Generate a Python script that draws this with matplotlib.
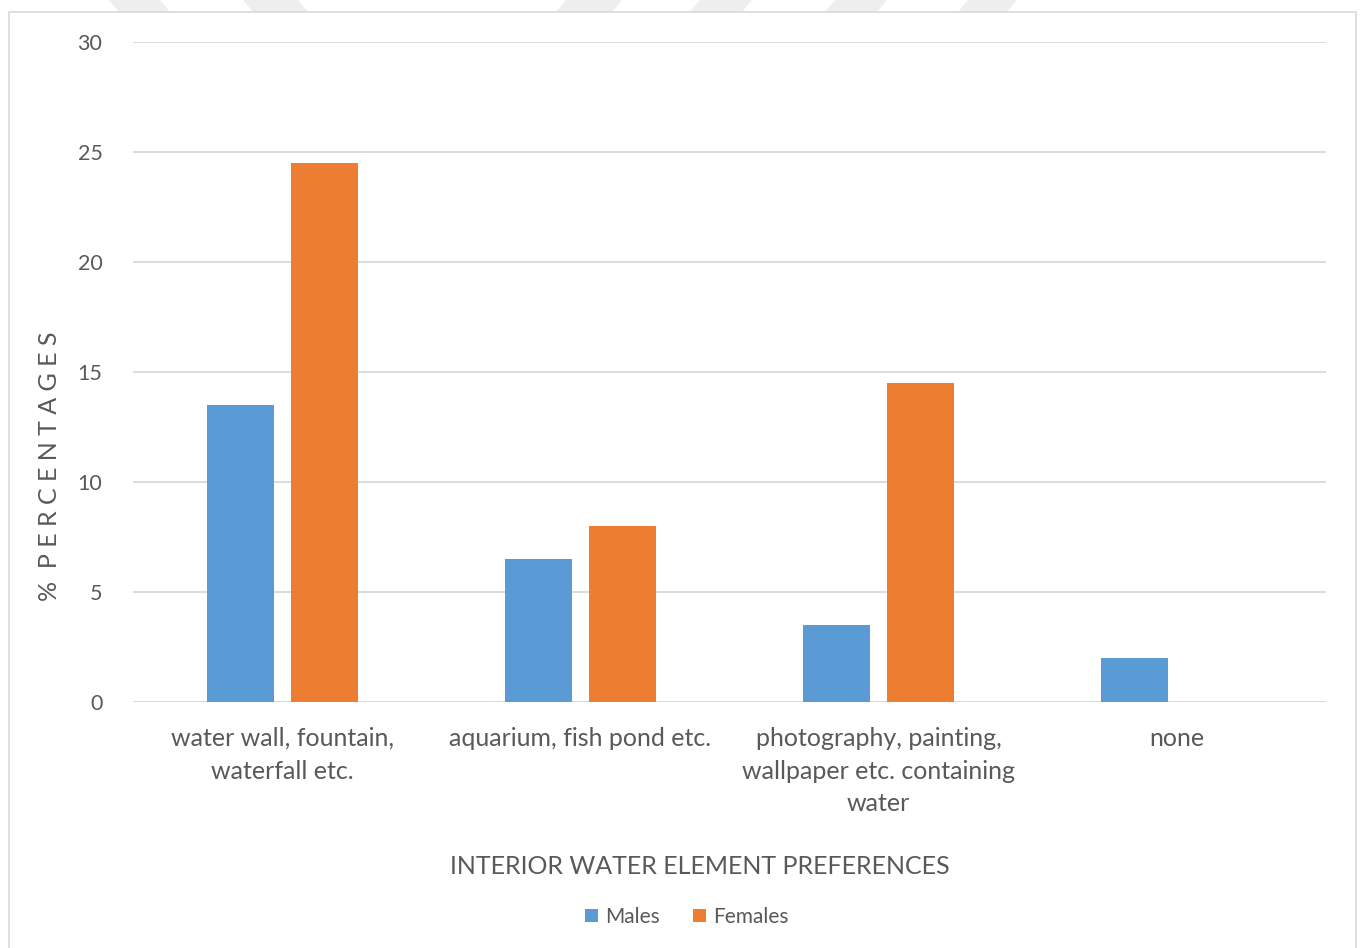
import matplotlib.pyplot as plt
from matplotlib.patches import Polygon, Rectangle

categories = ['water wall, fountain,\nwaterfall etc.', 'aquarium, fish pond etc.',
              'photography, painting,\nwallpaper etc. containing\nwater', 'none']
males = [13.5, 6.5, 3.5, 2.0]
females = [24.5, 8.0, 14.5, 0.0]
yticks = [0, 5, 10, 15, 20, 25, 30]

blue = '#5B9BD5'
orange = '#ED7D31'
grey = '#595959'

plt.rcParams['font.family'] = ['Lato', 'DejaVu Sans']

W, H = 1362, 948
fig = plt.figure(figsize=(W / 100, H / 100), dpi=100)

# faint watermark shapes above the chart, then the chart border
marks = [(109, 160, 1), (243, 298, 1), (566, 622, -1), (700, 752, -1), (835, 887, -1), (968, 1017, -1)]
for a, b, d in marks:
    s = 10 * d
    pts = [[a, 0], [b, 0], [b + s, 12], [a + s, 12]]
    fig.patches.append(Polygon([[px / W, 1 - py / H] for px, py in pts], closed=True,
                               transform=fig.transFigure, facecolor='#eeeeee', edgecolor='none', zorder=0))
fig.patches.append(Rectangle((9 / W, -0.01), (1356 - 9) / W, 1 - 12 / H + 0.01, transform=fig.transFigure,
                             facecolor='white', edgecolor='#d9d9d9', linewidth=1.2, zorder=1))

ax = fig.add_axes([133 / W, 1 - 702 / H, (1326 - 133) / W, (702 - 42) / H])
ax.set_facecolor('none')
ax.set_zorder(2)

x = list(range(len(categories)))
bw = 0.2247
off = 0.1408
ax.bar([i - off for i in x], males, bw, color=blue, label='Males', zorder=3)
ax.bar([i + off for i in x], females, bw, color=orange, label='Females', zorder=3)

ax.set_xlim(-0.5, 3.5)
ax.set_ylim(0, 30)
ax.set_yticks(yticks)
ax.grid(axis='y', color='#d9d9d9', linewidth=1.3, zorder=0)
ax.set_axisbelow(True)
for s in ax.spines.values():
    s.set_visible(False)
ax.axhline(0, color='#d9d9d9', linewidth=1.3, zorder=1)

ax.tick_params(axis='both', length=0, labelcolor=grey)
ax.tick_params(axis='y', pad=22, labelsize=15.5)
ax.tick_params(axis='x', pad=18, labelsize=18)
ax.set_xticks(x)
ax.set_xticklabels(categories, linespacing=1.51)

ax.set_xlabel('INTERIOR WATER ELEMENT PREFERENCES', color=grey, fontsize=18)
ax.xaxis.set_label_coords((700 - 133) / (1326 - 133), -(867 - 702) / (702 - 42), transform=ax.transAxes)
ax.xaxis.label.set_va('center')
ax.set_ylabel('%  P E R C E N T A G E S', color=grey, fontsize=18)
ax.yaxis.set_label_coords(-(133 - 50) / (1326 - 133), (702 - 466) / (702 - 42), transform=ax.transAxes)
ax.yaxis.label.set_va('center')

fig.legend(loc='center', bbox_to_anchor=(687 / W, 1 - 917 / H), ncol=2, frameon=False,
           fontsize=15, labelcolor=grey, handlelength=0.6, handleheight=0.6, handletextpad=0.35,
           columnspacing=1.6)

fig.savefig('out.png', dpi=100)
